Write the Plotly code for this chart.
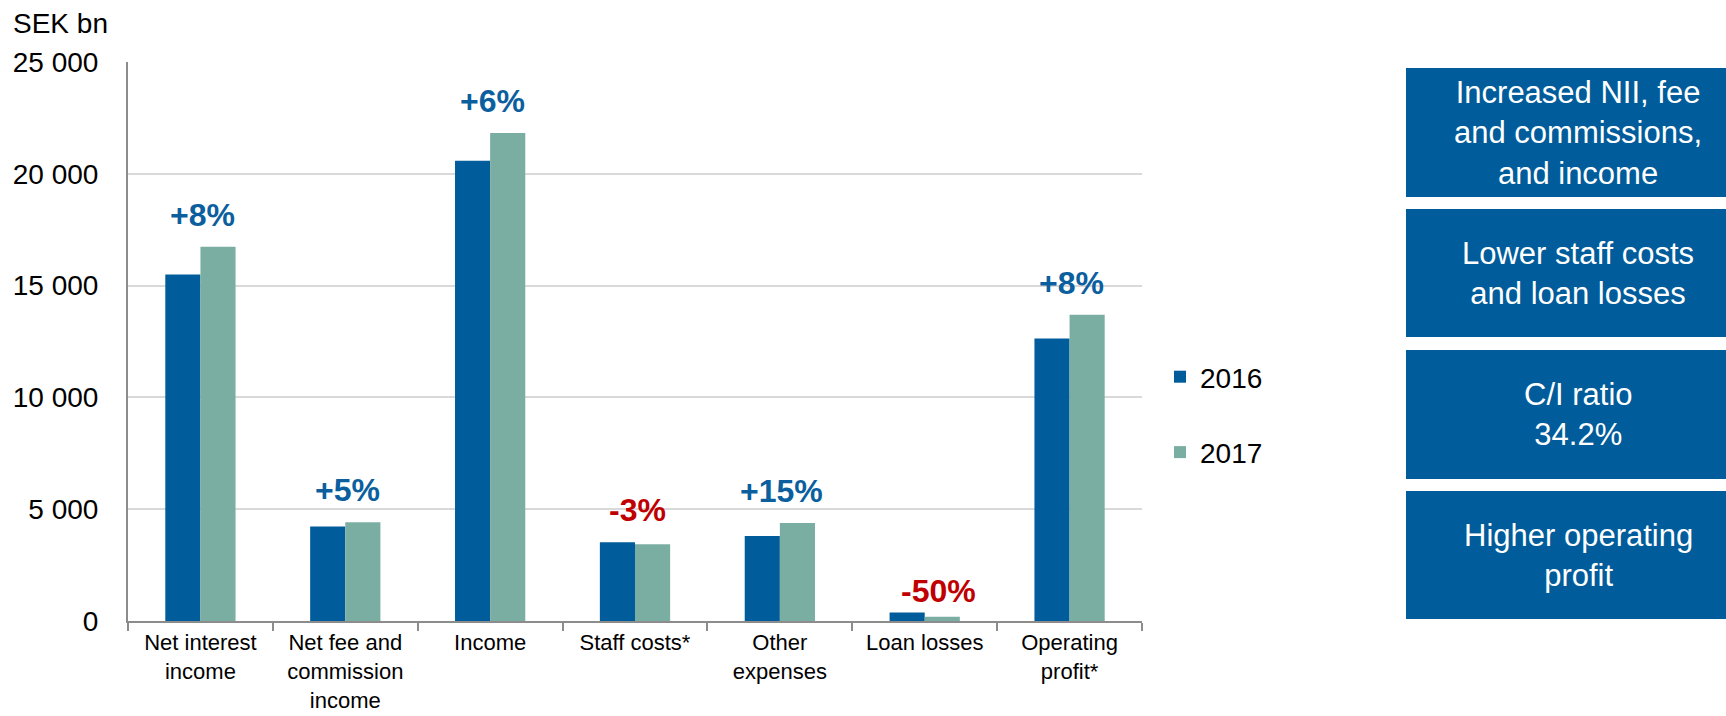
import plotly.graph_objects as go

# ---- data -------------------------------------------------------------
categories = [
    "Net interest<br>income",
    "Net fee and<br>commission<br>income",
    "Income",
    "Staff costs*",
    "Other<br>expenses",
    "Loan losses",
    "Operating<br>profit*",
]
values_2016 = [15500, 4230, 20580, 3520, 3800, 380, 12630]
values_2017 = [16740, 4420, 21830, 3430, 4380, 190, 13700]
change_labels = ["+8%", "+5%", "+6%", "-3%", "+15%", "-50%", "+8%"]

y_tick_values = [0, 5000, 10000, 15000, 20000, 25000]
y_tick_labels = ["0", "5 000", "10 000", "15 000", "20 000", "25 000"]

highlights = [
    "Increased NII, fee<br>and commissions,<br>and income",
    "Lower staff costs<br>and loan losses",
    "C/I ratio<br>34.2%",
    "Higher operating<br>profit",
]

# ---- style ------------------------------------------------------------
BLUE = "#005C9A"
TEAL = "#7BAEA2"
UP_TEXT = "#0B5F9E"
DOWN_TEXT = "#C00000"
FONT = "Liberation Sans, Arial, sans-serif"

W, H = 1726, 716
PLOT_L, PLOT_R, PLOT_T, PLOT_B = 128, 1142, 62, 621


def px_x(px):
    return (px - PLOT_L) / (PLOT_R - PLOT_L)


def px_y(py):
    return (PLOT_B - py) / (PLOT_B - PLOT_T)


fig = go.Figure()
fig.add_trace(go.Bar(x=categories, y=values_2016, name="2016",
                     marker=dict(color=BLUE, line=dict(width=0)),
                     legendgroup="a"))
fig.add_trace(go.Bar(x=categories, y=values_2017, name="2017",
                     marker=dict(color=TEAL, line=dict(width=0)),
                     legendgroup="b"))

annotations = []

# change labels above each pair of bars
for cat, a, b, lab in zip(categories, values_2016, values_2017, change_labels):
    small = max(a, b) < 1000
    annotations.append(dict(
        x=cat, y=max(a, b), xref="x", yref="y",
        text=f"<b>{lab}</b>", showarrow=False,
        yanchor="bottom", yshift=2 if small else 12,
        xshift=14 if small else 2,
        font=dict(family=FONT, size=32,
                  color=DOWN_TEXT if lab.startswith("-") else UP_TEXT),
    ))

# unit label
annotations.append(dict(
    x=px_x(60), y=px_y(23), xref="paper", yref="paper",
    text="SEK bn", showarrow=False, xanchor="center", yanchor="middle",
    font=dict(family=FONT, size=28, color="#000000"),
))

# highlight boxes on the right
box_rows = [(68, 197), (209, 337), (350, 479), (491, 619)]
shapes = []
for (top, bottom), txt in zip(box_rows, highlights):
    shapes.append(dict(
        type="rect", xref="paper", yref="paper",
        x0=px_x(1406), x1=px_x(1740), y0=px_y(bottom), y1=px_y(top),
        fillcolor=BLUE, line=dict(width=0), layer="above",
    ))
    annotations.append(dict(
        x=px_x(1578), y=px_y((top + bottom) / 2), xref="paper", yref="paper",
        text=txt, showarrow=False, xanchor="center", yanchor="middle",
        align="center",
        font=dict(family=FONT, size=31, color="#FFFFFF"),
    ))

fig.update_layout(
    width=W, height=H,
    margin=dict(l=PLOT_L, r=W - PLOT_R, t=PLOT_T, b=H - PLOT_B, pad=0,
                autoexpand=False),
    paper_bgcolor="#FFFFFF", plot_bgcolor="#FFFFFF",
    barmode="group", bargap=0.515, bargroupgap=0,
    font=dict(family=FONT, color="#000000"),
    showlegend=True,
    legend=dict(
        x=px_x(1160), y=px_y(352), xanchor="left", yanchor="top",
        font=dict(family=FONT, size=28, color="#000000"),
        tracegroupgap=36, bgcolor="rgba(0,0,0,0)", borderwidth=0,
        itemclick=False, itemdoubleclick=False,
    ),
    annotations=annotations,
    shapes=shapes,
)

fig.update_xaxes(
    automargin=False,
    showline=True, linecolor="#8C8C8C", linewidth=2,
    ticks="outside", tickson="boundaries", ticklen=8, tickwidth=2,
    tickcolor="#8C8C8C", showgrid=False,
    tickfont=dict(family=FONT, size=22, color="#000000"),
    ticklabelstandoff=1,
)
fig.update_yaxes(
    automargin=False,
    range=[0, 25000], tickvals=y_tick_values, ticktext=y_tick_labels,
    showline=True, linecolor="#8C8C8C", linewidth=2, ticks="",
    showgrid=True, gridcolor="#D9D9D9", gridwidth=2, zeroline=False,
    tickfont=dict(family=FONT, size=28, color="#000000"),
    ticklabelstandoff=22,
)

fig.write_html("out.html")
